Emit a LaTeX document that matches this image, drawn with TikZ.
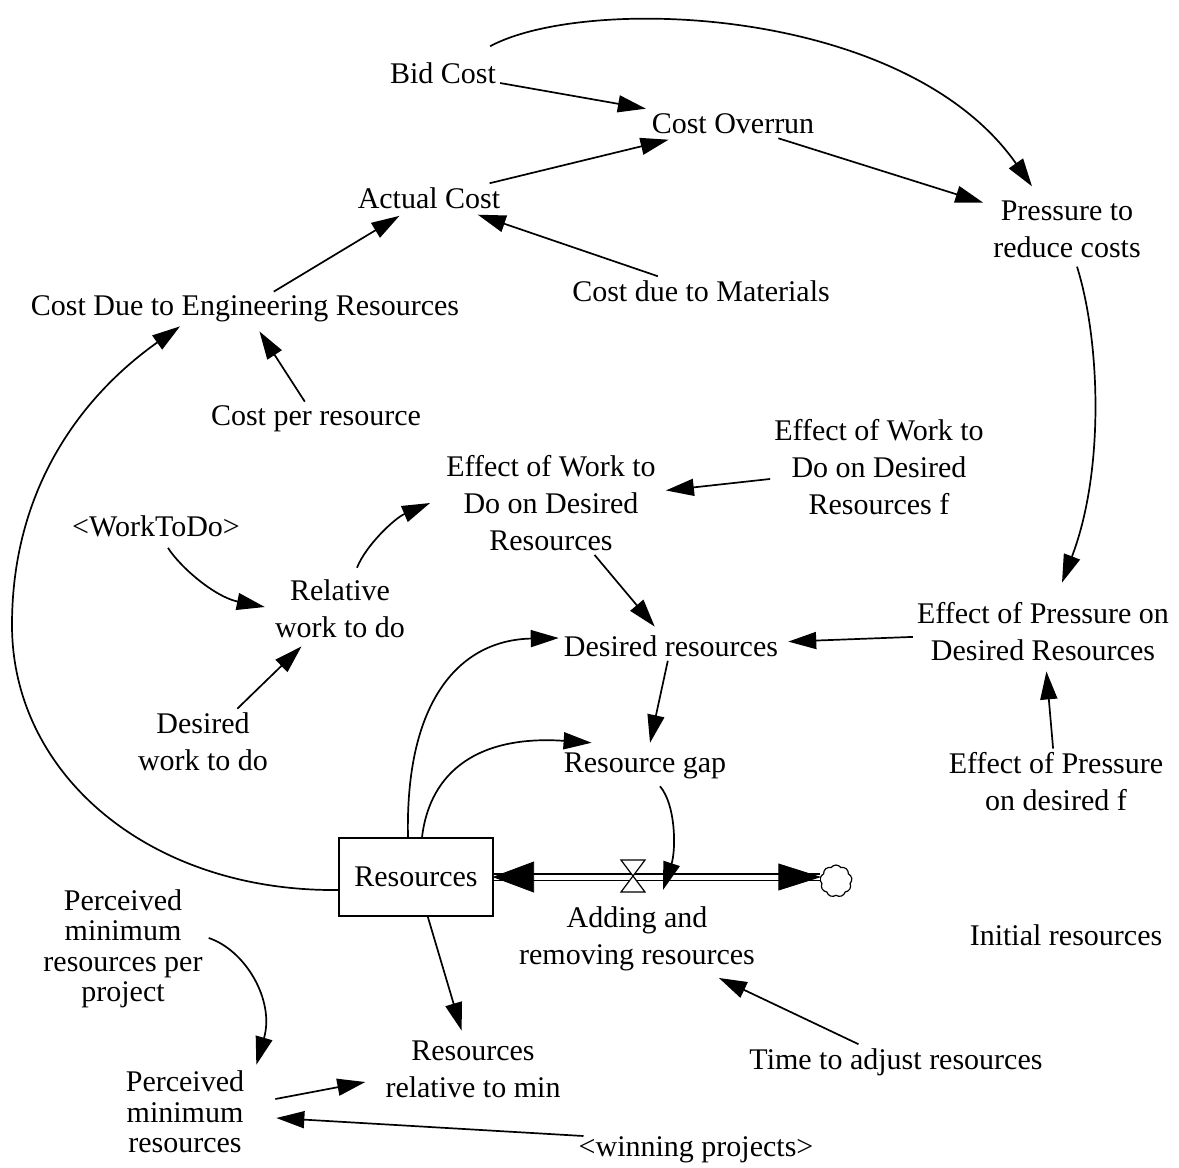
\documentclass[tikz,border=0pt]{standalone}
\usepackage{fontspec}
\setmainfont{Liberation Serif}
\usetikzlibrary{arrows.meta,calc,shapes.symbols}

\begin{document}
\begin{tikzpicture}[x=1pt,y=-1pt,
  lbl/.style={inner sep=4pt, align=center, font=\fontsize{30}{37}\selectfont},
  lbltight/.style={lbl, font=\fontsize{30}{30.5}\selectfont},
  link/.style={line width=1.7pt, -{Triangle[length=28pt,width=17pt]}, shorten >=6pt},
  clink/.style={line width=1.7pt, -{Triangle[length=28pt,width=17pt]}},
  stock/.style={draw, line width=1.3pt, minimum width=154pt, minimum height=78pt,
                inner sep=0pt, font=\fontsize{30}{37}\selectfont},
  pipe/.style={line width=1.3pt, double distance=5pt},
  pipehead/.style={fill=black, draw=black, line width=0.8pt, line join=miter},
]
\useasboundingbox (0,0) rectangle (1179,1168);

% ---------- variables ----------
\node[lbl] (bid)       at (443,73)   {Bid Cost};
\node[lbl] (overrun)   at (733,124)  {Cost Overrun};
\node[lbl] (actual)    at (429,198)  {Actual Cost};
\node[lbl] (pressure)  at (1067,229) {Pressure to\\reduce costs};
\node[lbl] (materials) at (701,291)  {Cost due to Materials};
\node[lbl] (eng)       at (245,309)  {Cost Due to Engineering Resources};
\node[lbl] (cpr)       at (316,419)  {Cost per resource};
\node[lbl] (ewf)       at (879,467)  {Effect of Work to\\Do on Desired\\Resources f};
\node[lbl] (ew)        at (551,503)  {Effect of Work to\\Do on Desired\\Resources};
\node[lbl] (wtd)       at (156,526)  {\textless WorkToDo\textgreater};
\node[lbl] (rel)       at (340,609)  {Relative\\work to do};
\node[lbl] (ep)        at (1043,632) {Effect of Pressure on\\Desired Resources};
\node[lbl] (des)       at (671,646)  {Desired resources};
\node[lbl] (dwd)       at (203,742)  {Desired\\work to do};
\node[lbl] (gap)       at (645,766)  {Resource gap};
\node[lbl] (epf)       at (1056,782) {Effect of Pressure\\on desired f};
\node[lbl] (add)       at (637,939)  {Adding and\\removing resources};
\node[lbl] (init)      at (1066,935) {Initial resources};
\node[lbltight] (ppp)  at (123,949)  {Perceived\\minimum\\resources per\\project};
\node[lbl] (rrm)       at (473,1069) {Resources\\relative to min};
\node[lbl] (time)      at (896,1062) {Time to adjust resources};
\node[lbltight] (pmr)  at (185,1112) {Perceived\\minimum\\resources};
\node[lbl] (win)       at (696,1150) {\textless winning projects\textgreater};

% ---------- stock, flow and sink ----------
\node[stock] (res) at (416,877) {Resources};
\node[cloud, cloud puffs=9, cloud puff arc=110, draw, line width=1.2pt,
      minimum width=32pt, minimum height=32pt, inner sep=0pt, aspect=1] (sink) at (836,881) {};
\node[inner sep=0pt, minimum size=0pt] (valve) at (633,877) {};
\coordinate (flowin) at (663,890);

\draw[pipe] (res.east) -- (res.east -| sink.west);
\draw[pipehead] (res.east) -- ++(40,-15) -- ++(0,30) -- cycle;
\draw[pipehead] (res.east -| sink.west) -- ++(-41,-13) -- ++(0,26) -- cycle;
\draw[fill=white, line width=1.2pt, line join=miter]
  ($(valve)+(-12,-17)$) -- ($(valve)+(12,-17)$) -- ($(valve)+(-12,15)$) -- ($(valve)+(12,15)$) -- cycle;

% ---------- straight links ----------
\draw[link] (bid) -- (overrun);
\draw[link] (actual) -- (overrun);
\draw[link] (overrun) -- (pressure);
\draw[link] (materials) -- (actual);
\draw[link] (eng) -- (actual);
\draw[link] (cpr) -- (eng);
\draw[link] (ewf) -- (ew);
\draw[link] (ew) -- (des);
\draw[link] (ep) -- (des);
\draw[link] (epf) -- (ep);
\draw[link] (des) -- (gap);
\draw[link] (dwd) -- (rel);
\draw[link] (res) -- (rrm);
\draw[link] (time) -- (add);
\draw[clink] ($(pmr.east)+(27,-13)$) -- ($(rrm.west)+(-16,13)$);
\draw[clink] ($(win.west)+(9,-14)$) -- ($(pmr.east)+(28,6)$);

% ---------- curved links ----------
\draw[clink] ($(bid.north east)+(-10,-12)$)
  .. controls (585,-5) and (905,5) .. ($(pressure.north)+(-35,-10)$);
\draw[clink] ($(pressure.south)+(10,5)$)
  .. controls (1100,340) and (1105,470) .. ($(ep.north)+(19,-16)$);
\draw[clink] ($(wtd.south)+(12,7)$)
  .. controls (180,567) and (215,597) .. ($(rel.west)+(-6,-2)$);
\draw[clink] ($(rel.north)+(17,-8)$)
  .. controls (366,545) and (395,518) .. ($(ew.west)+(-12,0)$);
\draw[clink] ($(res.north)+(-8,0)$)
  .. controls (405,700) and (460,640) .. ($(des.west)+(-1,-8)$);
\draw[clink] ($(res.north)+(6,0)$)
  .. controls (430,770) and (480,735) .. ($(gap.north west)+(32,-6)$);
\draw[clink] ($(gap.south)+(15,3)$)
  .. controls (676,805) and (676,850) .. (flowin);
\draw[clink] ($(res.west)+(0,13)$)
  .. controls (150,892) and (12,775) .. (12,625)
  .. controls (12,480) and (90,390) .. ($(eng.south)+(-65,0)$);
\draw[clink] ($(ppp.east)+(2,-11)$)
  .. controls (245,950) and (275,1000) .. ($(pmr.north east)+(8,-2)$);

\end{tikzpicture}
\end{document}
